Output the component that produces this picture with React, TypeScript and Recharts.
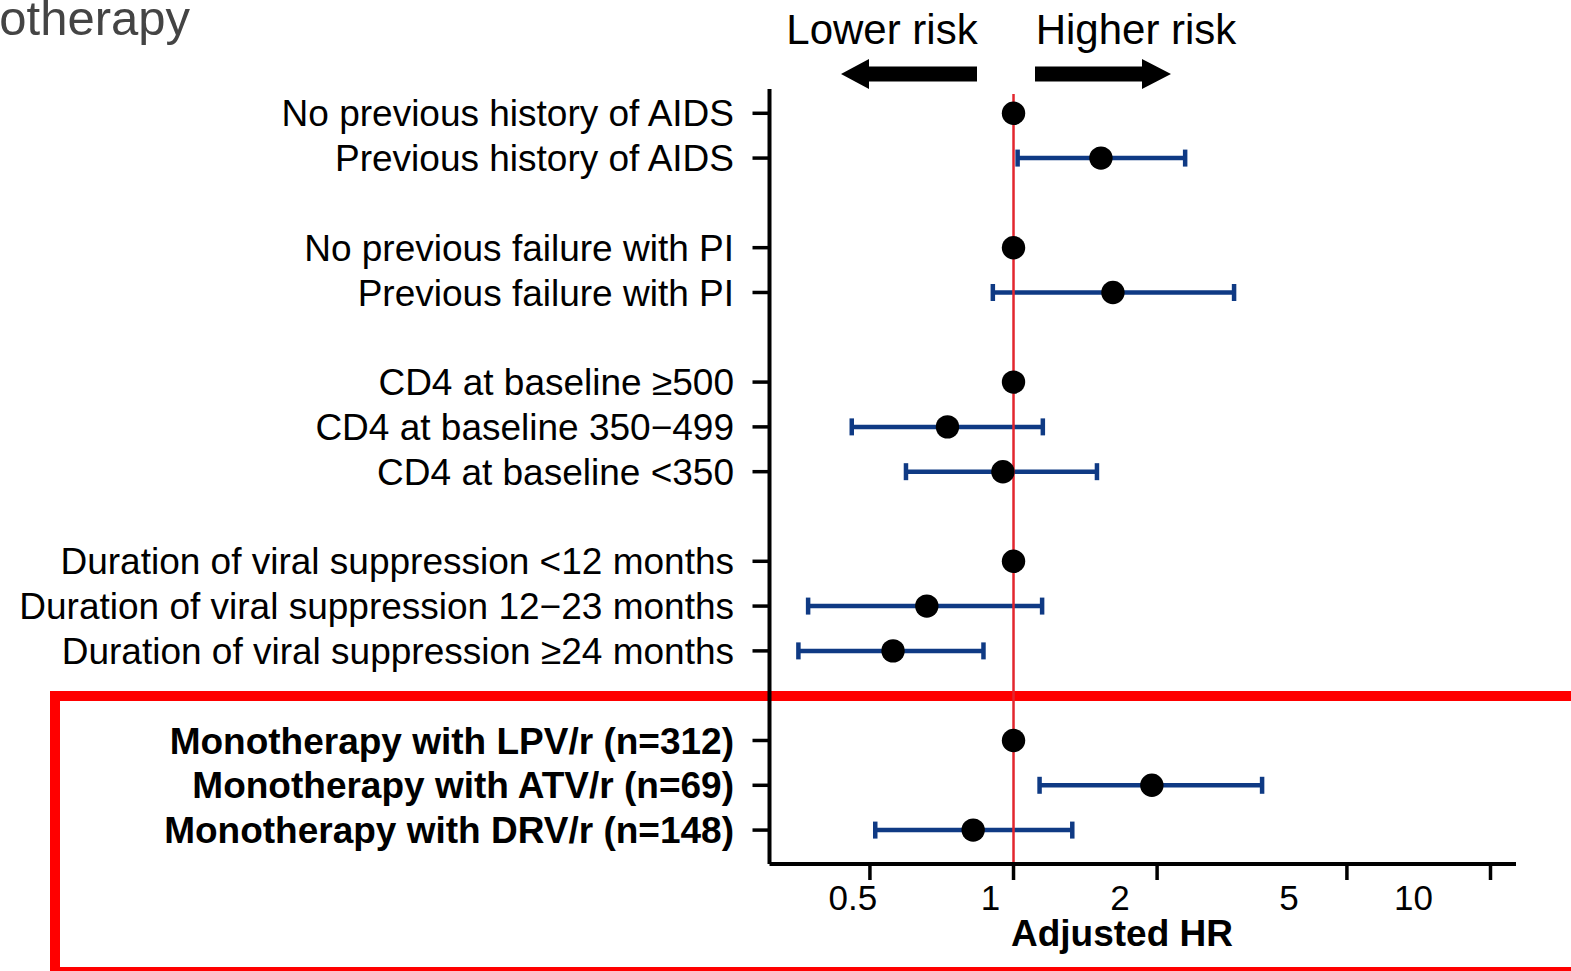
import React from 'react';
import { ComposedChart, Scatter, XAxis, YAxis, ErrorBar, ReferenceLine } from 'recharts';

// ---- data ----
const rowIndex = [0, 1, 3, 4, 6, 7, 8, 10, 11, 12, 14, 15, 16];
const rowLabels = [
  'No previous history of AIDS',
  'Previous history of AIDS',
  'No previous failure with PI',
  'Previous failure with PI',
  'CD4 at baseline \u2265500',
  'CD4 at baseline 350\u2212499',
  'CD4 at baseline <350',
  'Duration of viral suppression <12 months',
  'Duration of viral suppression 12\u221223 months',
  'Duration of viral suppression \u226524 months',
  'Monotherapy with LPV/r (n=312)',
  'Monotherapy with ATV/r (n=69)',
  'Monotherapy with DRV/r (n=148)',
];
const boldRow = [false, false, false, false, false, false, false, false, false, false, true, true, true];
const hrValues = [1.0, 1.525, 1.0, 1.616, 1.0, 0.727, 0.95, 1.0, 0.658, 0.559, 1.0, 1.95, 0.823];
const ciLower = [null, 1.02, null, 0.905, null, 0.458, 0.595, null, 0.371, 0.354, null, 1.134, 0.513];
const ciUpper = [null, 2.29, null, 2.9, null, 1.152, 1.496, null, 1.148, 0.865, null, 3.32, 1.328];
const xTicks = [0.5, 1, 2, 5, 10];
const xTickLabels = ['0.5', '1', '2', '5', '10'];

// ---- styles ----
const FONT = '"Liberation Sans", Arial, sans-serif';
const NAVY = '#0f3a84';
const X_LABEL_SHIFT: Record<string, number> = { '0.5': -17, '1': -23, '2': -37, '5': -58, '10': -77 };

const allData = rowIndex.map((row, i) => ({ row, hr: hrValues[i] }));
const ciData = rowIndex
  .map((row, i) => ({ row, hr: hrValues[i], lo: ciLower[i], hi: ciUpper[i] }))
  .filter((d) => d.lo != null && d.hi != null)
  .map((d) => ({ row: d.row, hr: d.hr, err: [d.hr - (d.lo as number), (d.hi as number) - d.hr] }));

const YTick = (props: any) => {
  const { x, y, payload } = props;
  const idx = rowIndex.indexOf(payload.value);
  if (idx < 0) return null;
  return (
    <text
      x={x + 1.5}
      y={y}
      dy="0.355em"
      textAnchor="end"
      fontFamily={FONT}
      fontSize={37}
      fontWeight={boldRow[idx] ? 'bold' : 'normal'}
      fill="#000"
    >
      {rowLabels[idx]}
    </text>
  );
};

const XTick = (props: any) => {
  const { x, y, payload } = props;
  const idx = xTicks.indexOf(payload.value);
  const label = idx >= 0 ? xTickLabels[idx] : String(payload.value);
  return (
    <text x={x + (X_LABEL_SHIFT[label] || 0)} y={y} dy={24} textAnchor="middle" fontFamily={FONT} fontSize={35} fill="#000">
      {label}
    </text>
  );
};

const Dot = (props: any) => <circle cx={props.cx} cy={props.cy} r={11.7} fill="#000" />;
const NoShape = () => <g />;

export default function App() {
  return (
    <div style={{ position: 'absolute', left: 0, top: 0, width: 1571, height: 971, overflow: 'hidden', background: '#fff' }}>
      <div
        style={{
          position: 'absolute',
          left: 50,
          top: 691,
          width: 1560,
          height: 286,
          border: '10px solid #ff0000',
          boxSizing: 'border-box',
        }}
      />
      <div style={{ position: 'absolute', left: 0, top: 0 }}>
        <ComposedChart width={1571} height={971} margin={{ top: 89, right: 55, bottom: 47, left: 30 }}>
          <XAxis
            type="number"
            dataKey="hr"
            scale="log"
            domain={[0.3079, 11.31]}
            allowDataOverflow
            ticks={xTicks}
            interval={0}
            tickSize={16}
            tickMargin={6}
            height={60}
            axisLine={{ stroke: '#000', strokeWidth: 4 }}
            tickLine={{ stroke: '#000', strokeWidth: 3.5 }}
            tick={<XTick />}
          />
          <YAxis
            type="number"
            dataKey="row"
            domain={[-0.542, 16.757]}
            allowDataOverflow
            reversed
            ticks={rowIndex}
            interval={0}
            tickSize={17}
            tickMargin={20}
            width={739.5}
            axisLine={{ stroke: '#000', strokeWidth: 4 }}
            tickLine={{ stroke: '#000', strokeWidth: 3.5 }}
            tick={<YTick />}
          />
          <Scatter data={ciData} shape={<NoShape />} isAnimationActive={false}>
            <ErrorBar dataKey="err" direction="x" stroke={NAVY} strokeWidth={4.5} width={8.5} isAnimationActive={false} />
          </Scatter>
          <ReferenceLine
            segment={[
              { x: 1, y: -0.43 },
              { x: 1, y: 16.757 },
            ]}
            stroke="#e3262e"
            strokeWidth={2.5}
          />
          <Scatter data={allData} shape={<Dot />} isAnimationActive={false} />
        </ComposedChart>
      </div>
      <svg width={1571} height={971} style={{ position: 'absolute', left: 0, top: 0, pointerEvents: 'none' }}>
        <text x={190} y={35} textAnchor="end" fontFamily={FONT} fontSize={49} fill="#444">
          Monotherapy
        </text>
        <text x={882} y={44} textAnchor="middle" fontFamily={FONT} fontSize={42} fill="#000">
          Lower risk
        </text>
        <text x={1136} y={44} textAnchor="middle" fontFamily={FONT} fontSize={42} fill="#000">
          Higher risk
        </text>
        <polygon points="841,74 869,59 869,66.5 977,66.5 977,81.5 869,81.5 869,89" fill="#000" />
        <polygon points="1171,74 1142,59 1142,66.5 1035,66.5 1035,81.5 1142,81.5 1142,89" fill="#000" />
        <text x={1122} y={946} textAnchor="middle" fontFamily={FONT} fontSize={37} fontWeight="bold" fill="#000">
          Adjusted HR
        </text>
      </svg>
    </div>
  );
}
